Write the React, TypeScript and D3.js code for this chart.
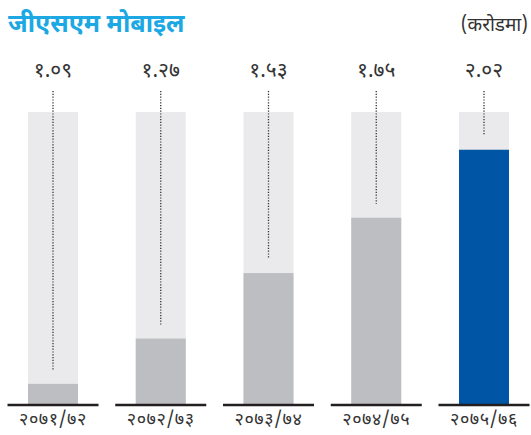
import React from "react";
import * as d3 from "d3";

const categories = ["२०७१/७२", "२०७२/७३", "२०७३/७४", "२०७४/७५", "२०७५/७६"];
const values = [1.09, 1.27, 1.53, 1.75, 2.02];
const valueLabels = ["१.०९", "१.२७", "१.५३", "१.७५", "२.०२"];
const title = "जीएसएम मोबाइल";
const unit = "(करोडमा)";

const W = 531;
const H = 435;
const FONT = "'Noto Sans Devanagari', 'Noto Sans', 'Lohit Devanagari', 'FreeSans', sans-serif";

export default function App() {
  const x = d3.scalePoint<string>().domain(categories).range([53, 484]);
  const y = d3.scaleLinear().domain([1.01, 2.17]).range([404, 112]);
  const bw = 50;
  const segW = 91;
  const [yMin, yMax] = y.domain();
  return (
    <svg width={W} height={H} style={{ position: "absolute", left: 0, top: 0 }} fontFamily={FONT}>
      <rect width={W} height={H} fill="#fff" />
      <text x={8} y={32} fontSize={25} fontWeight="bold" fill="#1CA8E3">{title}</text>
      <text x={528} y={31} fontSize={19} textAnchor="end" fill="#333">{unit}</text>
      {categories.map((c, i) => {
        const cx = x(c)!;
        const v = values[i];
        const last = i === categories.length - 1;
        return (
          <g key={c}>
            <rect x={cx - bw / 2} y={y(yMax)} width={bw} height={y(yMin) - y(yMax)} fill="#EAEAEC" />
            <rect x={cx - bw / 2} y={y(v)} width={bw} height={y(yMin) - y(v)} fill={last ? "#0055A5" : "#BDBEC2"} />
            <line x1={cx} x2={cx} y1={91} y2={y(v) - 14} stroke="#333" strokeWidth={1.3} strokeDasharray="1.2,1.6" />
            <text x={cx} y={77} fontSize={21} textAnchor="middle" fill="#333">{valueLabels[i]}</text>
            <line x1={cx - segW / 2} x2={cx + segW / 2} y1={y(yMin) + 1} y2={y(yMin) + 1} stroke="#231F20" strokeWidth={2.5} />
            <text x={cx} y={425} fontSize={18} letterSpacing={0.6} textAnchor="middle" fill="#333">{c}</text>
          </g>
        );
      })}
    </svg>
  );
}
